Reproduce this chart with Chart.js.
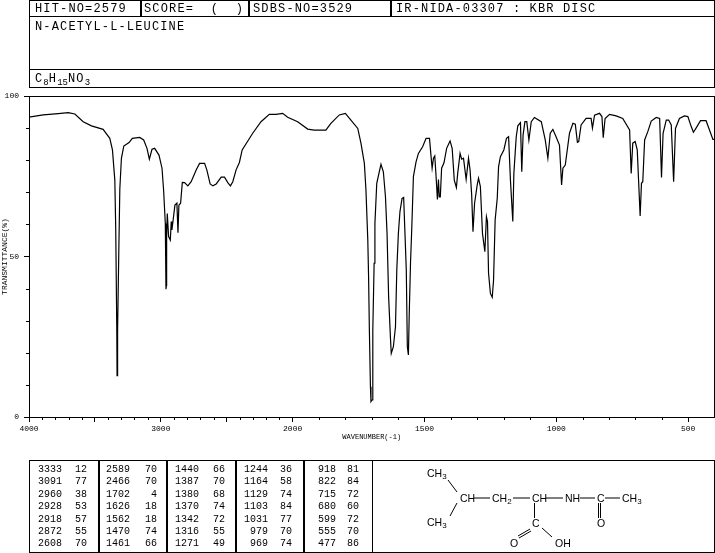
<!DOCTYPE html>
<html>
<head>
<meta charset="utf-8">
<title>N-ACETYL-L-LEUCINE</title>
<script src="https://cdn.jsdelivr.net/npm/chart.js@4"></script>
<style>
    html, body { margin: 0; padding: 0; background: #fff; }
    #page { position: relative; width: 715px; height: 553px; overflow: hidden; font-family: "Liberation Mono", monospace; color: #000; }
    #page canvas { position: absolute; left: 0; top: 0; }
    .box { position: absolute; border: 1px solid #000; box-sizing: border-box; }
    .head { position: absolute; font-size: 12px; letter-spacing: 1.15px; line-height: 12px; white-space: pre; }
    .head sub { font-size: 9px; line-height: 0; letter-spacing: 0; }
    .cell { position: absolute; font-size: 10px; line-height: 12px; letter-spacing: 0; text-align: right; width: 40px; }
    svg { position: absolute; left: 0; top: 0; }
    svg text { font-family: "Liberation Sans", sans-serif; font-size: 10.5px; }
    svg tspan { font-size: 8px; }
</style>
</head>
<body>
<div id="page">
    <canvas id="irChart" width="715" height="553"></canvas>

    <div class="box" style="left:29px;top:0;width:686px;height:17px"></div>
    <div class="box" style="left:29px;top:16px;width:686px;height:54px"></div>
    <div class="box" style="left:29px;top:69px;width:686px;height:19px"></div>
    <div class="box" style="left:140px;top:0;width:1px;height:17px"></div>
    <div class="box" style="left:248px;top:0;width:1px;height:17px"></div>
    <div class="box" style="left:390px;top:0;width:1px;height:17px"></div>
    <div class="head" style="left:35px;top:3px">HIT-NO=2579</div>
    <div class="head" style="left:144px;top:3px">SCORE=  (  )</div>
    <div class="head" style="left:253px;top:3px">SDBS-NO=3529</div>
    <div class="head" style="left:396px;top:3px">IR-NIDA-03307 : KBR DISC</div>
    <div class="head" style="left:35px;top:21px">N-ACETYL-L-LEUCINE</div>
    <div class="head" style="left:35px;top:73px">C<sub>8</sub>H<sub>15</sub>NO<sub>3</sub></div>

    <div id="peakTable"></div>

    <svg width="715" height="553" stroke="#000" stroke-width="1">
        <line x1="448" y1="480" x2="457" y2="492"/>
        <line x1="457" y1="503" x2="450" y2="516"/>
        <line x1="474" y1="498" x2="490" y2="498"/>
        <line x1="513" y1="498" x2="530" y2="498"/>
        <line x1="546" y1="498" x2="563" y2="498"/>
        <line x1="580" y1="498" x2="595" y2="498"/>
        <line x1="605" y1="498" x2="620" y2="498"/>
        <line x1="598.5" y1="503" x2="598.5" y2="518"/>
        <line x1="600.5" y1="503" x2="600.5" y2="518"/>
        <line x1="534.5" y1="503" x2="534.5" y2="518"/>
        <line x1="530" y1="529" x2="518" y2="536"/>
        <line x1="531" y1="531" x2="519" y2="538"/>
        <line x1="542" y1="528" x2="552" y2="537"/>
        <g stroke="none" fill="#000">
            <text x="427" y="477">CH<tspan dy="2">3</tspan></text>
            <text x="427" y="526">CH<tspan dy="2">3</tspan></text>
            <text x="460" y="502">CH</text>
            <text x="492" y="502">CH<tspan dy="2">2</tspan></text>
            <text x="532" y="502">CH</text>
            <text x="565" y="502">NH</text>
            <text x="597" y="502">C</text>
            <text x="622" y="502">CH<tspan dy="2">3</tspan></text>
            <text x="597" y="527">O</text>
            <text x="532" y="527">C</text>
            <text x="510" y="547">O</text>
            <text x="555" y="547">OH</text>
        </g>
    </svg>
</div>

<script>
// IR spectrum, wavenumber (cm-1) and %T
const waveNumbers = [
    4000, 3892, 3778, 3702, 3652, 3589, 3526, 3438, 3387, 3367,
    3349, 3342, 3334, 3332, 3329, 3327, 3319, 3311, 3299, 3281,
    3241, 3216, 3160, 3130, 3105, 3087, 3067, 3047, 3014, 2991,
    2979, 2966, 2961, 2958, 2956, 2951, 2946, 2941, 2928, 2921,
    2916, 2908, 2893, 2878, 2870, 2863, 2850, 2837, 2820, 2795,
    2770, 2731, 2706, 2668, 2651, 2626, 2605, 2580, 2542, 2517,
    2492, 2472, 2454, 2429, 2404, 2383, 2303, 2240, 2177, 2126,
    2076, 2038, 1981, 1943, 1918, 1874, 1855, 1823, 1800, 1779,
    1753, 1741, 1728, 1722, 1715, 1712, 1709, 1705, 1703, 1699,
    1696, 1691, 1688, 1681, 1674, 1665, 1656, 1648, 1642, 1636,
    1629, 1626, 1618, 1610, 1605, 1599, 1593, 1585, 1579, 1574,
    1569, 1565, 1561, 1558, 1553, 1548, 1542, 1532, 1523, 1507,
    1494, 1481, 1475, 1471, 1466, 1461, 1456, 1451, 1447, 1444,
    1440, 1435, 1426, 1416, 1403, 1395, 1387, 1379, 1374, 1365,
    1359, 1352, 1342, 1333, 1327, 1321, 1316, 1310, 1300, 1295,
    1288, 1280, 1271, 1265, 1261, 1257, 1250, 1243, 1238, 1232,
    1224, 1219, 1212, 1199, 1189, 1181, 1174, 1165, 1161, 1152,
    1146, 1136, 1131, 1126, 1119, 1112, 1104, 1095, 1083, 1057,
    1042, 1032, 1023, 1013, 1001, 988, 980, 975, 966, 950,
    937, 928, 920, 915, 906, 887, 868, 863, 855, 836,
    827, 822, 815, 798, 773, 748, 722, 716, 710, 701,
    693, 688, 682, 677, 672, 665, 653, 640, 621, 608,
    601, 595, 583, 574, 564, 555, 548, 533, 514, 501,
    488, 480, 470, 453, 432, 419, 406, 402
];
const transmittance = [
    93.4, 94.1, 94.5, 94.8, 94.4, 92, 90.7, 89.6, 86.8, 83.2,
    73.8, 58.3, 27, 12.9, 17.2, 27, 51, 71, 80.6, 84.4,
    85.5, 86.8, 87.1, 86.3, 83.7, 80.3, 83.4, 83.7, 81.6, 77.5,
    70.7, 60.3, 39.8, 41, 56.2, 63.4, 63.4, 56.2, 55.1, 60.9,
    58.3, 60.9, 66, 66.6, 57.4, 66, 66.6, 73.1, 73, 72,
    73.3, 77, 79, 79, 77, 72.6, 72, 72.6, 74.7, 74.7,
    73, 72, 73.3, 77, 79.3, 83.2, 88.4, 92, 94.3, 94.3,
    94.6, 93.4, 92, 89.7, 89.4, 89.4, 91.5, 94.1, 94.6, 92.5,
    89.9, 85.3, 79, 70.7, 55.1, 43.7, 27, 9.4, 4.8, 5.3,
    27, 47.9, 60.3, 72.8, 75.4, 78.7, 76.4, 68.6, 57.2, 37.5,
    24.5, 19.8, 21.9, 28.1, 45.8, 57.2, 64, 68.1, 68.4, 57.2,
    45.8, 21.9, 19.3, 31.3, 47.9, 59.3, 74.9, 79.5, 82.1, 84.2,
    86.8, 86.8, 81.1, 77.5, 80.6, 81.3, 74.9, 67.8, 74, 68.6,
    68.6, 77.5, 79.2, 83.7, 86, 83.7, 73.8, 71.5, 75.9, 82.1,
    80.3, 80.6, 74, 80.6, 76.9, 69.2, 57.7, 66.6, 72.3, 74.4,
    71.8, 57.2, 51.5, 62.4, 60.9, 44.8, 38.5, 37.3, 42.7, 61.4,
    68.1, 78, 81.1, 83.2, 86.8, 87.3, 73.8, 60.9, 75.9, 87.3,
    90.7, 91.7, 76.4, 87.9, 92, 92, 86.3, 92, 93.3, 92,
    86.3, 80.6, 88.4, 89.6, 87.3, 84.7, 72.3, 77.5, 78.5, 88.4,
    91.5, 91.2, 85.6, 85.8, 91, 93, 93, 90, 94, 94.6,
    93.6, 87, 93, 94.3, 93.8, 93, 89.4, 75.9, 85.3, 85.8,
    83.2, 73.8, 62.6, 72.8, 73.3, 86.3, 88.9, 92.2, 93.3, 93,
    74.6, 88.4, 92.5, 92.5, 91, 73.3, 89.9, 93, 93.8, 93.6,
    90.4, 88.7, 90, 92.3, 92.3, 89.4, 86.5, 86.5
];

// Ticks
const xMajorTicks = [4000, 3500, 3000, 2500, 2000, 1500, 1000, 500];
const xTickLabels = [4000, 3000, 2000, 1500, 1000, 500];
const xMinorTicks = [
    3900, 3800, 3700, 3600, 3400, 3300, 3200, 3100, 2900, 2800, 2700, 2600,
    2400, 2300, 2200, 2100, 1900, 1800, 1700, 1600, 1400, 1300, 1200, 1100,
    900, 800, 700, 600, 400
];
const yMajorTicks = [0, 50, 100];
const yMinorTicks = [10, 20, 30, 40, 60, 70, 80, 90];

// Peak table, read column by column
const peakWaves = [
    3333, 3091, 2960, 2928, 2918, 2872, 2608,
    2589, 2466, 1702, 1626, 1562, 1470, 1461,
    1440, 1387, 1380, 1370, 1342, 1316, 1271,
    1244, 1164, 1129, 1103, 1031, 979, 969,
    918, 822, 715, 680, 599, 555, 477
];
const peakValues = [
    12, 77, 38, 53, 57, 55, 70,
    70, 70, 4, 18, 18, 74, 66,
    66, 70, 68, 74, 72, 55, 49,
    36, 58, 74, 84, 77, 70, 74,
    81, 84, 72, 60, 72, 70, 86
];

// The axis doubles its scale below 2000 cm-1
function xPos(wave) {
    return wave >= 2000 ? (4000 - wave) / 2 : 1000 + (2000 - wave);
}
function waveAt(pos) {
    return pos <= 1000 ? 4000 - pos * 2 : 2000 - (pos - 1000);
}

function buildPeakTable() {
    const holder = document.getElementById('peakTable');
    // frame and column dividers
    [[29, 344], [98, 1], [166, 1], [235, 1], [303, 1], [372, 343]].forEach(([left, width]) => {
        const d = document.createElement('div');
        d.className = 'box';
        d.style.cssText = `left:${left}px;top:460px;width:${width}px;height:93px`;
        holder.appendChild(d);
    });
    const waveRight = [62, 130, 199, 268, 336];
    const valueRight = [87, 157, 225, 292, 359];
    peakWaves.forEach((wave, i) => {
        const col = Math.floor(i / 7);
        const top = 464 + (i % 7) * 12.4;
        [[wave, waveRight[col]], [peakValues[i], valueRight[col]]].forEach(([txt, right]) => {
            const c = document.createElement('div');
            c.className = 'cell';
            c.textContent = txt;
            c.style.left = (right - 40) + 'px';
            c.style.top = top + 'px';
            holder.appendChild(c);
        });
    });
}

// Frame round the plot and the short minor ticks
const framePlugin = {
    id: 'frame',
    afterDraw(chart) {
        const { ctx, chartArea: a, scales } = chart;
        ctx.save();
        ctx.strokeStyle = '#000';
        ctx.lineWidth = 1;
        ctx.strokeRect(Math.round(a.left) + 0.5, Math.round(a.top) + 0.5, Math.round(a.right - a.left) - 1, Math.round(a.bottom - a.top));
        ctx.beginPath();
        xMinorTicks.forEach(w => {
            const px = Math.round(scales.x.getPixelForValue(xPos(w))) + 0.5;
            ctx.moveTo(px, a.bottom);
            ctx.lineTo(px, a.bottom + 3);
        });
        yMinorTicks.forEach(v => {
            const py = Math.round(scales.y.getPixelForValue(v)) + 0.5;
            ctx.moveTo(a.left, py);
            ctx.lineTo(a.left - 3, py);
        });
        ctx.stroke();
        ctx.restore();
    }
};

function initChart() {
    const ctx = document.getElementById('irChart').getContext('2d');
    const tickFont = { family: '"Liberation Mono", monospace', size: 8 };

    new Chart(ctx, {
        type: 'line',
        data: {
            datasets: [{
                data: waveNumbers.map((w, i) => ({ x: xPos(w), y: transmittance[i] })),
                borderColor: '#000',
                borderWidth: 1.2,
                pointRadius: 0,
                tension: 0,
                fill: false
            }]
        },
        options: {
            responsive: false,
            animation: false,
            layout: { padding: { top: 96, left: 0, right: 0.5, bottom: 112 } },
            plugins: { legend: { display: false }, tooltip: { enabled: false } },
            scales: {
                x: {
                    type: 'linear',
                    min: 0,
                    max: 2600,
                    afterFit: (s) => { s.height = 24; },
                    afterBuildTicks: (s) => { s.ticks = xMajorTicks.map(w => ({ value: xPos(w) })); },
                    grid: { drawOnChartArea: false, tickLength: 5, tickColor: '#000' },
                    border: { color: '#000' },
                    ticks: {
                        font: tickFont,
                        color: '#000',
                        padding: 2,
                        autoSkip: false,
                        maxRotation: 0,
                        callback: (val) => {
                            const w = waveAt(val);
                            return xTickLabels.includes(w) ? String(w) : '';
                        }
                    },
                    title: {
                        display: true,
                        text: 'WAVENUMBER(-1)',
                        color: '#000',
                        font: { family: '"Liberation Mono", monospace', size: 7 },
                        padding: { top: 2, bottom: 0 }
                    }
                },
                y: {
                    type: 'linear',
                    min: 0,
                    max: 100,
                    afterFit: (s) => { s.width = 29; },
                    afterBuildTicks: (s) => { s.ticks = yMajorTicks.map(v => ({ value: v })); },
                    grid: { drawOnChartArea: false, tickLength: 5, tickColor: '#000' },
                    border: { color: '#000' },
                    ticks: { font: tickFont, color: '#000', padding: 5 },
                    title: {
                        display: true,
                        text: 'TRANSMITTANCE(%)',
                        color: '#000',
                        font: tickFont,
                        padding: 0
                    }
                }
            }
        },
        plugins: [framePlugin]
    });
}

buildPeakTable();
initChart();
</script>
</body>
</html>
